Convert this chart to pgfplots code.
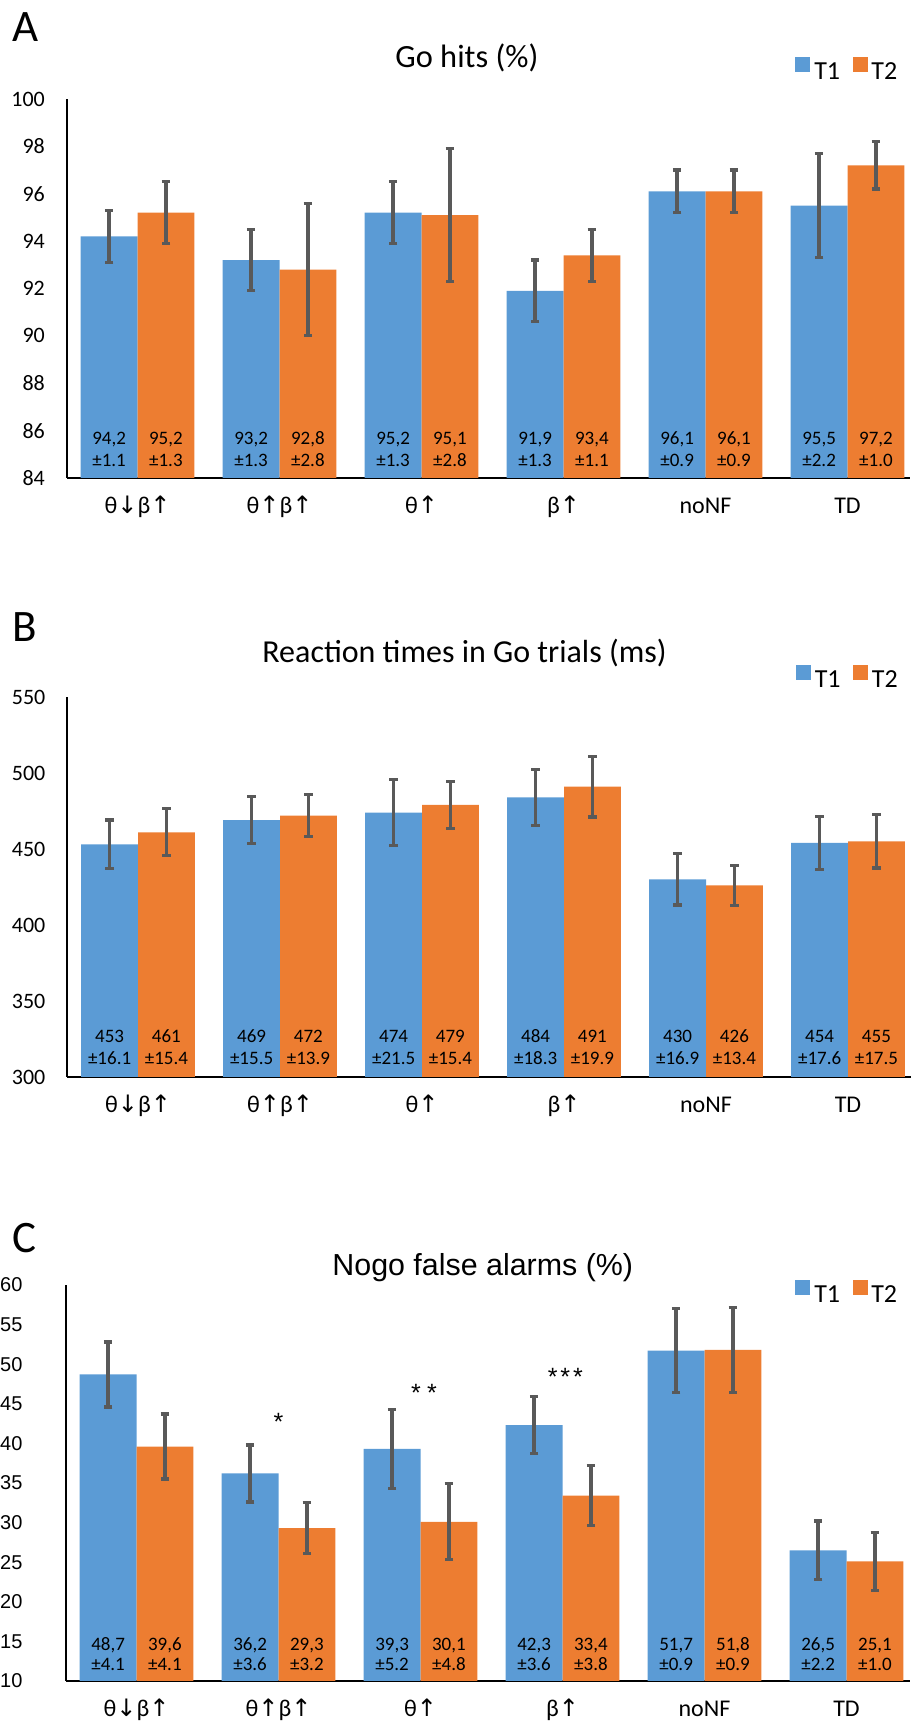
\documentclass[border=0pt]{standalone}
\usepackage{fontspec}
\setmainfont{Carlito}
\newfontfamily\arialf{Liberation Sans}
\newfontfamily\dvf{DejaVu Sans}
\usepackage{pgfplots}
\usepackage{pgfplotstable}
\pgfplotsset{compat=1.18}
\definecolor{tone}{HTML}{5B9BD5}
\definecolor{ttwo}{HTML}{ED7D31}
\definecolor{errc}{HTML}{595959}
\newcommand\up{{\dvf\char"2191}}
\newcommand\dn{{\dvf\char"2193}}

\pgfplotstableread{
x t1 e1 t2 e2
0 94.2 1.1 95.2 1.3
1 93.2 1.3 92.8 2.8
2 95.2 1.3 95.1 2.8
3 91.9 1.3 93.4 1.1
4 96.1 0.9 96.1 0.9
5 95.5 2.2 97.2 1.0
}\tabA
\pgfplotstableread{
x t1 e1 t2 e2
0 453 16.1 461 15.4
1 469 15.5 472 13.9
2 474 21.5 479 15.4
3 484 18.3 491 19.9
4 430 16.9 426 13.4
5 454 17.6 455 17.5
}\tabB
\pgfplotstableread{
x t1 e1 t2 e2
0 48.7 4.1 39.6 4.1
1 36.2 3.6 29.3 3.2
2 39.3 5.0 30.1 4.8
3 42.3 3.6 33.4 3.8
4 51.7 5.3 51.8 5.4
5 26.5 3.7 25.1 3.7
}\tabC

\pgfplotsset{
 panel/.style={
  scale only axis, width=421.75pt,
  xmin=-0.5, xmax=5.44,
  axis x line*=bottom, axis y line*=left,
  axis line style={-, line width=1pt, black},
  major tick length=0pt, tick style={draw=none},
  xtick={0,...,5},
  xticklabels={θ\dn β\up, θ\up β\up, θ\up, β\up, noNF, TD},
  xticklabel style={font=\fontsize{12}{14}\selectfont, anchor=base, yshift=-18pt},
  clip mode=individual,
  /pgf/number format/assume math mode=true,
  yticklabel style={font=\fontsize{11}{13}\selectfont, xshift=-7.3pt},
  legend style={draw=none, fill=none, font=\fontsize{13}{15}\selectfont,
    legend columns=2, inner sep=0pt,
    /tikz/every even column/.append style={column sep=4.2pt}},
  legend cell align=left,
 },
 eb/.style={
   error bars/y dir=both, error bars/y explicit,
   error bars/error bar style={line width=1.7pt, errc},
   error bars/error mark options={rotate=90, mark size=2.1pt, line width=1.6pt, errc}},
 b1/.style={ybar, bar width=0.4, bar shift=0pt, fill=tone, draw=none, eb, forget plot},
 b2/.style={ybar, bar width=0.4, bar shift=0pt, fill=ttwo, draw=none, eb, forget plot},
}
\tikzset{lab/.style={anchor=base, inner sep=0pt, font=\fontsize{9.5}{11}\selectfont},
  star/.style={anchor=base, inner sep=0pt, yshift=-7.2pt, font=\arialf\fontsize{12.5}{14}\selectfont}}
\newcommand\bl[3]{\node[lab,yshift=\labhi] at (axis cs:#1,\yb) {#2};\node[lab,yshift=\lablo] at (axis cs:#1,\yb) {#3};}

\begin{document}
\begin{tikzpicture}
\useasboundingbox (0,0) rectangle (455pt,861pt);
% panel letters and titles
\node[anchor=base west, inner sep=0pt, font=\fontsize{22.5}{26}\selectfont] at (5.8pt,840pt) {A};
\node[anchor=base west, inner sep=0pt, font=\fontsize{22.5}{26}\selectfont] at (6pt,540pt) {B};
\node[anchor=base west, inner sep=0pt, font=\fontsize{22.5}{26}\selectfont] at (6pt,234.5pt) {C};
\node[anchor=base west, inner sep=0pt, font=\fontsize{16.2}{19}\selectfont] at (197.5pt,827pt) {Go hits (\%)};
\node[anchor=base west, inner sep=0pt, font=\fontsize{16}{19}\selectfont] at (131pt,529.5pt) {Reaction times in Go trials (ms)};
\node[anchor=base west, inner sep=0pt, font=\arialf\fontsize{15.2}{18}\selectfont] at (166pt,223pt) {Nogo false alarms (\%)};

% ---------- A ----------
\def\yb{84}\def\labhi{16.5pt}\def\lablo{5.5pt}
\begin{axis}[panel, at={(33.25pt,622pt)}, anchor=south west, height=189.5pt,
  ymin=84, ymax=100, ytick={84,86,...,100},
  legend style={at={(0.99,1.071)}, anchor=east}]
\addlegendimage{legend image code/.code={\fill[tone] (0pt,0.7pt) rectangle (7pt,7.7pt);}}
\addlegendentry{T1}
\addlegendimage{legend image code/.code={\fill[ttwo] (0pt,0.7pt) rectangle (7pt,7.7pt);}}
\addlegendentry{T2}
\addplot[b1] table[x expr=\thisrow{x}-0.2, y=t1, y error=e1] {\tabA};
\addplot[b2] table[x expr=\thisrow{x}+0.2, y=t2, y error=e2] {\tabA};
\bl{-0.2}{94,2}{±1.1}\bl{0.2}{95,2}{±1.3}
\bl{0.8}{93,2}{±1.3}\bl{1.2}{92,8}{±2.8}
\bl{1.8}{95,2}{±1.3}\bl{2.2}{95,1}{±2.8}
\bl{2.8}{91,9}{±1.3}\bl{3.2}{93,4}{±1.1}
\bl{3.8}{96,1}{±0.9}\bl{4.2}{96,1}{±0.9}
\bl{4.8}{95,5}{±2.2}\bl{5.2}{97,2}{±1.0}
\end{axis}

% ---------- B ----------
\def\yb{300}\def\labhi{17pt}\def\lablo{6pt}
\begin{axis}[panel, at={(33.5pt,322.5pt)}, anchor=south west, height=190pt,
  ymin=300, ymax=550, ytick={300,350,...,550},
  legend style={at={(0.99,1.045)}, anchor=east}]
\addlegendimage{legend image code/.code={\fill[tone] (0pt,0.7pt) rectangle (7pt,7.7pt);}}
\addlegendentry{T1}
\addlegendimage{legend image code/.code={\fill[ttwo] (0pt,0.7pt) rectangle (7pt,7.7pt);}}
\addlegendentry{T2}
\addplot[b1] table[x expr=\thisrow{x}-0.2, y=t1, y error=e1] {\tabB};
\addplot[b2] table[x expr=\thisrow{x}+0.2, y=t2, y error=e2] {\tabB};
\bl{-0.2}{453}{±16.1}\bl{0.2}{461}{±15.4}
\bl{0.8}{469}{±15.5}\bl{1.2}{472}{±13.9}
\bl{1.8}{474}{±21.5}\bl{2.2}{479}{±15.4}
\bl{2.8}{484}{±18.3}\bl{3.2}{491}{±19.9}
\bl{3.8}{430}{±16.9}\bl{4.2}{426}{±13.4}
\bl{4.8}{454}{±17.6}\bl{5.2}{455}{±17.5}
\end{axis}

% ---------- C ----------
\def\yb{10}\def\labhi{15pt}\def\lablo{5pt}
\begin{axis}[panel, at={(32.75pt,20.5pt)}, anchor=south west, height=198pt,
  width=422.25pt, xmax=5.447,
  ymin=10, ymax=60, ytick={10,15,...,60},
  yticklabel style={font=\arialf\fontsize{10}{12}\selectfont, xshift=-10.7pt},
  legend style={at={(0.99,0.975)}, anchor=east}]
\addlegendimage{legend image code/.code={\fill[tone] (0pt,0.7pt) rectangle (7pt,7.7pt);}}
\addlegendentry{T1}
\addlegendimage{legend image code/.code={\fill[ttwo] (0pt,0.7pt) rectangle (7pt,7.7pt);}}
\addlegendentry{T2}
\addplot[b1] table[x expr=\thisrow{x}-0.2, y=t1, y error=e1] {\tabC};
\addplot[b2] table[x expr=\thisrow{x}+0.2, y=t2, y error=e2] {\tabC};
\bl{-0.2}{48,7}{±4.1}\bl{0.2}{39,6}{±4.1}
\bl{0.8}{36,2}{±3.6}\bl{1.2}{29,3}{±3.2}
\bl{1.8}{39,3}{±5.2}\bl{2.2}{30,1}{±4.8}
\bl{2.8}{42,3}{±3.6}\bl{3.2}{33,4}{±3.8}
\bl{3.8}{51,7}{±0.9}\bl{4.2}{51,8}{±0.9}
\bl{4.8}{26,5}{±2.2}\bl{5.2}{25,1}{±1.0}
\node[star] at (axis cs:1,43.5) {*};
\node[star] at (axis cs:2.025,47.1) {*\hspace{3.2pt}*};
\node[star] at (axis cs:3.02,49.1) {*\hspace{1.5pt}*\hspace{1.5pt}*};
\end{axis}
\end{tikzpicture}
\end{document}
